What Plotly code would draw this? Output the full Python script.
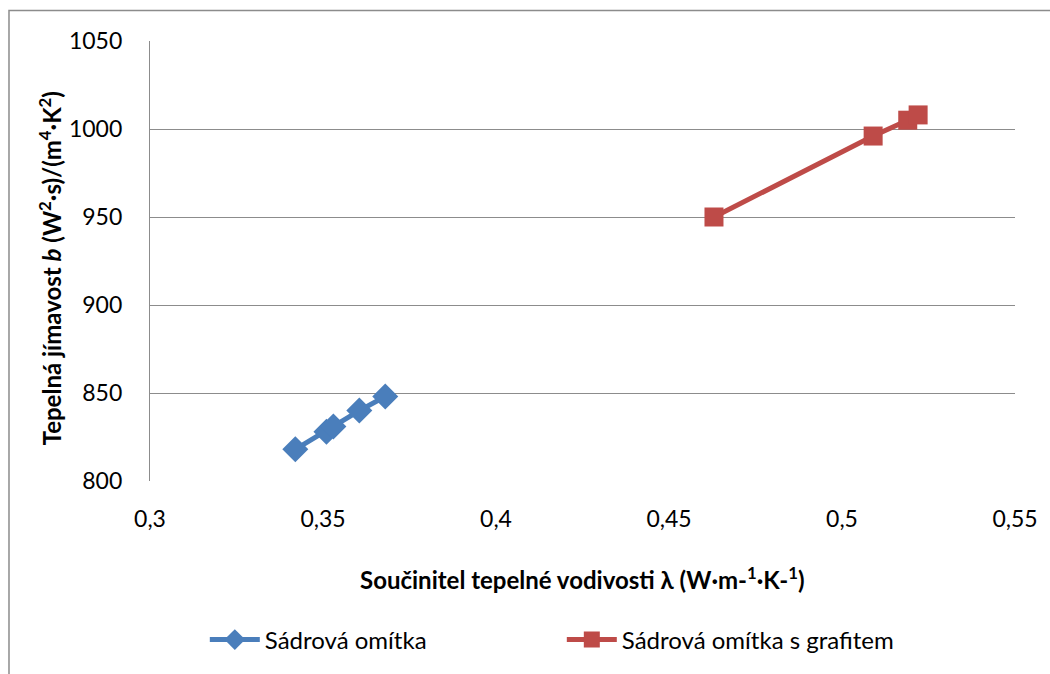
import plotly.graph_objects as go

# Data
sadra_x = [0.342, 0.351, 0.353, 0.3605, 0.368]
sadra_y = [818, 828, 831, 840, 848]
graf_x = [0.463, 0.509, 0.519, 0.522]
graf_y = [950, 996, 1005, 1008]

series_names = ["Sádrová omítka", "Sádrová omítka s grafitem"]
x_tickvals = [0.3, 0.35, 0.4, 0.45, 0.5, 0.55]
x_ticktext = ["0,3", "0,35", "0,4", "0,45", "0,5", "0,55"]
y_tickvals = [800, 850, 900, 950, 1000, 1050]
y_ticktext = ["800", "850", "900", "950", "1000", "1050"]

x_title = "Součinitel tepelné vodivosti λ (W·m-<sup>1</sup>·K-<sup>1</sup>)"
y_title = "Tepelná jímavost <i>b</i> (W<sup>2</sup>·s)/(m<sup>4</sup>·K<sup>2</sup>)"

FONT = "Lato, Carlito, Calibri, sans-serif"
BLUE = "#4a7ebb"
RED = "#be4b48"
GRID = "#8c8c8c"

fig = go.Figure()
fig.add_trace(go.Scatter(
    x=sadra_x, y=sadra_y, name=series_names[0], mode="lines+markers",
    line=dict(color=BLUE, width=5),
    marker=dict(symbol="diamond", size=20, color=BLUE),
))
fig.add_trace(go.Scatter(
    x=graf_x, y=graf_y, name=series_names[1], mode="lines+markers",
    line=dict(color=RED, width=5),
    marker=dict(symbol="square", size=19, color=RED),
))

W, H = 1050, 674
L, R, T, B = 150, 32, 41, 193
pw = W - L - R
ph = H - T - B

def px_x(px):
    return (px - L) / pw

def px_y(py):
    return (H - B - py) / ph

fig.update_layout(
    width=W, height=H,
    margin=dict(l=L, r=R, t=T, b=B),
    paper_bgcolor="white", plot_bgcolor="white",
    font=dict(family=FONT, size=23, color="#000000"),
    showlegend=True,
    legend=dict(
        orientation="h", x=px_x(205), xanchor="left", y=px_y(640), yanchor="middle",
        font=dict(family=FONT, size=24, color="#000000"),
        entrywidth=292, entrywidthmode="pixels",
        itemwidth=50, bgcolor="rgba(0,0,0,0)",
    ),
    xaxis=dict(
        range=[0.3, 0.55], tickvals=x_tickvals, ticktext=x_ticktext,
        showgrid=False, zeroline=False, showline=False,
        ticks="", ticklabelstandoff=22,
        tickfont=dict(family=FONT, size=23, color="#000000"),
    ),
    yaxis=dict(
        range=[800, 1050], tickvals=y_tickvals, ticktext=y_ticktext,
        showgrid=True, gridcolor=GRID, gridwidth=1.3, zeroline=False,
        showline=True, linecolor=GRID, linewidth=1.3,
        ticks="", ticklabelstandoff=22,
        tickfont=dict(family=FONT, size=23, color="#000000"),
    ),
    annotations=[
        dict(text="<b>" + x_title + "</b>", xref="paper", yref="paper",
             x=px_x(583), y=px_y(578), xanchor="center", yanchor="middle",
             showarrow=False, font=dict(family=FONT, size=24, color="#000000")),
        dict(text="<b>" + y_title + "</b>", xref="paper", yref="paper",
             x=px_x(50), y=px_y(268), xanchor="center", yanchor="middle",
             textangle=-90, showarrow=False,
             font=dict(family=FONT, size=24, color="#000000")),
    ],
    shapes=[
        dict(type="rect", xref="paper", yref="paper",
             x0=px_x(8.5), x1=px_x(1070), y0=px_y(700), y1=px_y(10.5),
             line=dict(color=GRID, width=1.5), fillcolor="rgba(0,0,0,0)", layer="below"),
    ],
)

fig.write_html("out.html", config={"displayModeBar": False},
               post_script="document.body.style.margin='0';document.body.style.overflow='hidden';")
